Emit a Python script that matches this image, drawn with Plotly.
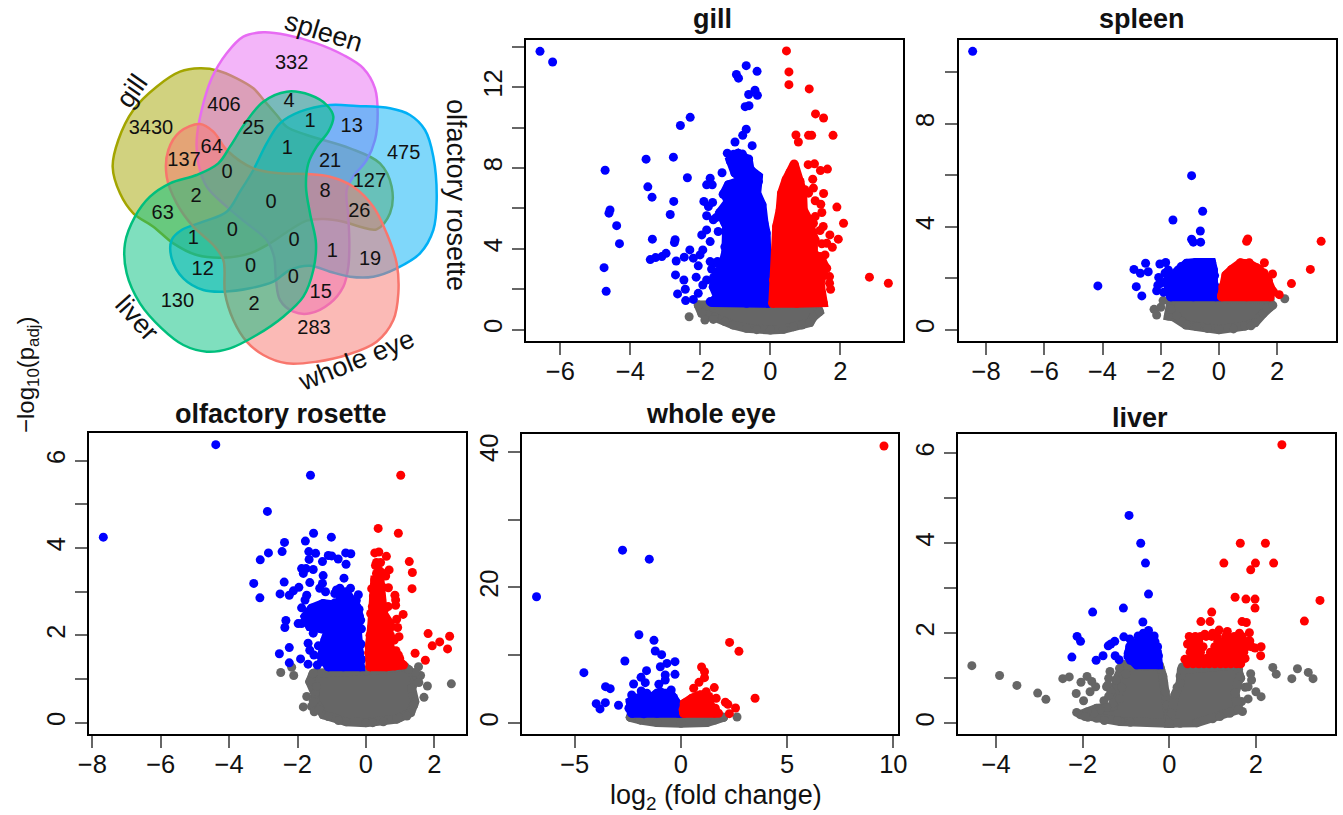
import plotly.graph_objects as go

W, H = 1343, 815
FONT = "Liberation Sans"
BLUE, RED, GREY = "#0000FF", "#FF0000", "#666666"

# ---- Volcano data: (log2 fold change, -log10 padj).
# *_PTS are the distinguishable points; *_CORE outline the saturated part of each
# cloud, where single points cannot be told apart.
GILL_BLUE_PTS = [(-6.58,13.78),(-6.22,13.25),(-4.72,7.89),(-4.58,5.93),(-4.61,5.77),(-4.39,5.15),(-4.31,4.26),(-4.75,3.07),(-4.69,1.90),(-3.55,8.44),(-3.50,7.07),(-3.38,6.56),(-3.37,4.48),(-3.43,3.47),(-3.28,3.57),(-3.10,3.62),(-2.98,3.78),(-2.77,8.54),(-2.76,6.35),(-2.86,5.70),(-2.72,4.45),(-2.74,4.31),(-2.69,3.40),(-2.71,2.71),(-2.47,2.46),(-2.43,2.00),(-2.65,1.77),(-2.42,1.44),(-2.57,10.11),(-2.29,10.51),(-2.37,7.52),(-2.46,3.59),(-2.30,3.95),(-2.20,3.54),(-2.01,3.70),(-1.93,3.95),(-2.06,3.16),(-2.12,2.60),(-1.93,2.21),(-1.82,2.46),(-2.06,1.80),(-2.20,1.50),(-1.72,1.39),(-1.72,3.37),(-1.96,4.69),(-1.82,4.94),(-1.82,5.64),(-1.90,6.35),(-1.65,6.30),(-1.77,6.10),(-1.72,7.50),(-1.82,7.17),(-1.66,7.17),(-1.38,7.77),(-1.72,4.36),(-1.63,5.44),(-1.49,4.86),(-1.51,3.37),(-1.23,8.74),(-1.01,9.29),(-0.79,9.62),(-0.69,9.92),(-0.52,9.11),(-0.69,13.07),(-0.38,12.79),(-0.97,12.63),(-0.91,12.45),(-0.44,11.85),(-0.62,11.64),(-0.37,11.60),(-0.72,11.04),(-0.61,11.09),(-1.05,8.68),(-0.93,8.74),(-0.80,8.70),(-0.62,8.45),(-1.14,8.33),(-1.05,8.10),(-0.55,7.90),(-0.40,7.60),(-0.97,7.80),(-0.82,7.90),(-1.55,5.55),(-1.38,5.75),(-1.30,5.30),(-1.45,3.20),(-1.60,3.30),(-1.68,3.00),(-1.62,2.60),(-1.52,2.85),(-1.30,4.10),(-1.25,4.40),(-1.27,6.00),(-1.35,6.70)]
GILL_BLUE_CORE = [(-0.06,1.31),(-0.06,2.46),(-0.10,3.79),(-0.12,4.78),(-0.18,5.27),(-0.24,6.18),(-0.39,6.76),(-0.34,7.34),(-0.34,7.59),(-0.58,7.92),(-0.63,8.41),(-0.91,8.71),(-1.15,8.41),(-1.01,7.75),(-0.77,7.42),(-1.20,7.17),(-1.32,6.76),(-1.20,6.35),(-1.44,5.80),(-1.25,5.11),(-1.27,3.87),(-1.39,3.04),(-1.58,2.55),(-1.63,2.13),(-1.51,1.64),(-1.68,1.34),(-0.68,1.31)]
GILL_RED_PTS = [(0.46,13.80),(0.53,12.76),(0.53,12.13),(1.11,11.92),(1.29,10.68),(1.52,10.48),(0.73,9.64),(0.80,9.29),(1.09,9.62),(1.18,9.62),(1.79,9.62),(1.08,8.17),(1.26,8.21),(1.43,7.88),(1.63,7.95),(1.21,7.45),(1.23,7.01),(1.09,6.76),(1.52,6.74),(1.28,6.38),(1.44,6.21),(1.90,6.07),(1.47,5.80),(1.28,5.60),(2.09,5.27),(1.51,5.11),(1.42,4.91),(1.70,4.69),(1.94,4.48),(1.47,4.25),(1.61,4.28),(1.77,4.08),(2.83,2.60),(3.37,2.30),(1.69,2.63),(1.69,2.30),(1.72,2.00),(1.61,3.04),(1.56,3.70),(0.85,7.34),(0.99,6.93),(1.23,5.27),(1.28,4.45),(1.42,3.62),(1.44,2.13),(1.28,1.34),(0.62,7.60),(0.50,7.20),(0.38,6.30),(1.10,5.00),(1.35,3.30)]
GILL_RED_CORE = [(0.07,1.31),(0.09,2.46),(0.15,3.79),(0.18,5.11),(0.28,5.93),(0.32,6.76),(0.45,7.42),(0.56,7.79),(0.68,8.20),(0.83,7.34),(0.92,6.84),(0.94,5.93),(1.09,5.44),(1.23,4.61),(1.23,3.79),(1.47,3.45),(1.56,3.12),(1.42,2.30),(1.51,1.34),(0.75,1.31)]
GILL_GREY_PTS = [(-2.32,0.64),(-1.87,0.48),(-1.63,0.51)]
GILL_GREY_CORE = [(-2.06,1.22),(-1.96,0.81),(-1.60,0.62),(-1.30,0.40),(-1.06,0.23),(-0.68,0.07),(-0.39,0.0),(0.0,-0.02),(0.37,0.02),(0.66,0.15),(0.90,0.23),(1.13,0.35),(1.23,0.64),(1.40,0.89),(1.32,1.28),(0.0,1.28)]

SPLEEN_BLUE_PTS = [(-8.46,10.81),(-0.94,5.98),(-0.56,4.60),(-1.58,4.26),(-0.64,3.83),(-0.94,3.51),(-0.88,3.40),(-0.63,3.40),(-4.16,1.70),(-2.65,1.31),(-2.84,1.67),(-2.92,2.34),(-2.70,2.19),(-2.52,2.58),(-2.43,2.25),(-2.03,2.55),(-1.83,2.61),(-2.07,2.03),(-2.14,1.51),(-2.10,1.73),(-1.74,2.32),(-1.50,2.10),(-1.30,2.45),(-1.00,2.55),(-0.65,2.55),(-0.38,2.60),(-0.15,2.10),(-0.14,1.70),(-0.10,1.45),(-1.80,1.90),(-1.90,1.45),(-1.60,1.35),(-2.00,1.80),(-1.85,2.20)]
SPLEEN_BLUE_CORE = [(-1.66,1.28),(-1.74,1.67),(-1.66,2.06),(-1.40,2.32),(-1.11,2.58),(-0.80,2.61),(-0.52,2.58),(-0.25,2.61),(-0.19,2.32),(-0.19,1.86),(-0.11,1.28),(-0.88,1.28)]
SPLEEN_RED_PTS = [(0.99,3.52),(0.95,3.43),(3.51,3.43),(3.14,2.34),(2.49,1.79),(2.07,1.36),(1.87,1.48),(1.84,2.16),(1.56,2.60),(1.04,2.60),(0.74,2.60),(1.70,1.90),(1.55,2.20),(1.30,2.40),(0.50,2.30),(0.28,2.00),(0.14,1.50),(0.10,1.35)]
SPLEEN_RED_CORE = [(0.09,1.28),(0.13,1.67),(0.24,2.12),(0.44,2.34),(0.74,2.58),(1.04,2.55),(1.39,2.34),(1.64,1.99),(1.81,1.54),(1.75,1.28),(0.95,1.28)]
SPLEEN_GREY_PTS = [(2.26,1.20),(-2.23,0.79),(-2.14,0.57),(-2.00,0.87),(-1.92,1.13),(0.50,0.03),(-0.40,0.05),(1.10,0.15),(1.65,0.85),(-1.30,0.35),(-1.45,0.55),(-1.65,0.80),(1.85,0.95)]
SPLEEN_GREY_CORE = [(1.75,1.20),(1.75,0.87),(1.52,0.63),(1.24,0.27),(0.89,0.14),(0.0,0.0),(-0.77,0.12),(-1.13,0.18),(-1.57,0.50),(-1.74,0.53),(-1.63,1.22)]

OLF_BLUE_PTS = [(-7.68,4.25),(-4.39,6.37),(-1.62,5.67),(-2.88,4.84),(-1.53,4.34),(-1.01,4.25),(-2.38,4.13),(-1.77,4.16),(-2.45,3.92),(-2.85,3.89),(-3.09,3.73),(-3.28,3.19),(-3.10,2.86),(-2.39,3.22),(-2.51,2.95),(-2.24,2.92),(-2.12,3.02),(-1.96,3.10),(-1.67,3.92),(-1.47,3.88),(-1.66,3.74),(-1.88,3.53),(-1.75,3.53),(-1.83,3.42),(-1.54,3.51),(-1.64,3.21),(-1.73,2.92),(-1.78,2.81),(-1.88,2.63),(-1.27,3.69),(-1.10,3.83),(-1.00,3.82),(-0.81,3.75),(-0.59,3.89),(-0.44,3.87),(-0.58,3.63),(-1.25,3.37),(-1.27,3.19),(-1.35,3.08),(-1.18,3.00),(-0.64,3.31),(-0.86,3.04),(-0.76,3.08),(-0.45,3.08),(-0.22,2.93),(-0.91,2.96),(-2.34,2.34),(-2.37,2.18),(-1.98,2.27),(-1.88,2.27),(-1.69,1.82),(-1.64,1.66),(-1.52,1.55),(-2.24,1.72),(-2.53,1.58),(-2.24,1.37),(-1.91,1.46),(-1.69,1.34),(-1.39,1.76),(-1.54,2.05),(-1.46,2.30),(-1.30,2.15),(-1.35,2.45),(-1.50,2.60),(-1.15,2.40),(-1.00,2.00),(-1.20,1.70),(-1.30,1.40),(-1.42,1.32),(-0.90,2.75),(-1.10,2.65),(-0.75,2.85),(-0.60,3.00),(-0.70,2.95),(-0.20,2.60),(-0.28,2.80),(-0.15,2.35),(-0.13,2.15),(-0.14,1.80),(-0.12,1.45)]
OLF_BLUE_CORE = [(-1.10,1.28),(-1.30,1.51),(-1.20,1.89),(-1.10,2.12),(-1.64,2.20),(-1.78,2.43),(-1.59,2.62),(-1.25,2.73),(-0.86,2.69),(-0.52,2.92),(-0.27,2.66),(-0.19,2.43),(-0.25,2.12),(-0.18,1.59),(-0.16,1.28),(-0.66,1.28)]
OLF_RED_PTS = [(0.36,4.45),(0.95,4.34),(1.02,5.67),(0.26,3.89),(0.38,3.91),(0.60,3.81),(0.31,3.67),(0.43,3.67),(1.27,3.69),(0.31,3.42),(0.46,3.44),(0.68,3.50),(0.58,3.36),(1.36,3.44),(1.35,3.07),(0.41,3.21),(0.17,3.07),(0.66,3.09),(0.85,2.92),(0.87,2.81),(0.65,2.66),(0.87,2.69),(1.09,2.48),(0.90,2.37),(0.93,2.18),(0.97,1.97),(0.83,1.89),(0.88,1.65),(0.99,1.47),(1.04,1.36),(0.80,1.32),(1.44,1.59),(1.74,1.43),(1.82,2.04),(1.94,1.76),(2.16,1.85),(2.45,1.98),(2.39,1.69),(0.28,3.60),(0.50,3.10),(0.12,2.00),(0.14,2.50),(0.08,1.60),(0.55,2.60),(0.60,2.30),(0.75,2.20),(0.72,2.00),(0.62,1.80),(0.75,1.60),(0.95,1.55),(1.10,1.32),(0.55,1.40),(0.85,1.30),(0.30,3.30),(0.22,2.90),(0.38,3.50)]
OLF_RED_CORE = [(0.12,1.28),(0.10,1.74),(0.17,2.20),(0.19,2.66),(0.26,2.96),(0.26,3.27),(0.41,3.27),(0.46,2.81),(0.51,2.50),(0.70,2.27),(0.65,1.89),(0.80,1.51),(1.04,1.32),(0.60,1.28)]
OLF_GREY_PTS = [(-2.49,1.15),(-2.17,1.27),(-2.11,1.08),(-1.73,0.60),(-1.83,0.36),(-1.59,0.37),(-1.51,0.25),(1.80,0.84),(1.70,0.58),(2.50,0.89),(1.54,1.28),(1.60,1.08),(-1.44,0.83),(-1.54,0.48),(-1.37,0.30),(-1.10,0.14),(-0.80,0.05),(0.20,0.0),(1.00,0.12),(1.20,0.15),(1.40,0.40),(1.55,0.92),(1.45,1.15),(1.25,1.22)]
OLF_GREY_CORE = [(-1.54,1.13),(-1.64,0.94),(-1.49,0.67),(-1.49,0.52),(-1.25,0.18),(-0.57,0.02),(0.0,0.0),(0.51,0.02),(0.90,0.08),(1.31,0.23),(1.43,0.48),(1.34,0.79),(1.48,1.05),(1.14,1.28),(0.02,1.19)]

EYE_BLUE_PTS = [(-6.80,18.63),(-2.75,25.49),(-1.49,24.17),(-1.98,13.04),(-1.27,12.21),(-1.21,10.64),(-0.91,10.10),(-2.64,9.17),(-0.28,9.07),(-0.66,8.82),(-0.97,8.33),(-4.57,7.45),(-1.62,7.75),(-0.74,7.11),(-0.28,7.21),(-1.88,6.76),(-1.68,5.98),(-2.23,5.78),(-0.74,6.37),(-1.04,5.74),(-3.55,5.39),(-3.33,5.10),(-3.56,3.04),(-3.99,2.89),(-3.81,2.11),(-2.94,2.65),(-2.32,4.17),(-1.87,4.75),(-1.60,4.41),(-0.97,4.66),(-0.46,4.90),(-2.45,2.21),(-2.20,3.70),(-1.90,3.90),(-1.60,3.60),(-1.30,3.50),(-1.10,4.00),(-0.80,4.20),(-0.60,4.00),(-0.35,3.80),(-0.15,2.40),(-0.10,1.90),(-2.40,2.40),(-2.35,1.60),(-1.75,1.40)]
EYE_BLUE_CORE = [(-2.31,1.47),(-2.39,3.19),(-2.07,3.68),(-1.44,3.68),(-1.13,4.41),(-0.50,4.41),(-0.19,2.94),(-0.11,1.47),(-1.13,1.47)]
EYE_RED_PTS = [(9.56,40.83),(2.29,11.91),(2.73,10.59),(0.97,8.28),(1.11,7.60),(1.11,6.72),(0.85,6.03),(0.60,5.15),(1.57,5.25),(1.19,4.66),(3.49,3.68),(1.66,3.68),(2.09,3.09),(2.21,2.79),(2.57,2.25),(2.28,1.42),(1.77,1.47),(1.62,2.21),(0.20,3.00),(0.40,3.30),(0.70,3.90),(1.05,4.20),(1.35,3.40),(1.40,2.20),(1.55,1.90),(0.10,2.00)]
EYE_RED_CORE = [(0.13,1.47),(0.16,2.94),(0.52,3.68),(0.91,4.17),(1.30,3.92),(1.38,2.70),(1.62,1.47)]
EYE_GREY_PTS = [(-2.39,0.88),(2.64,0.93),(2.01,0.88)]
EYE_GREY_CORE = [(-1.92,0.49),(-1.13,0.10),(0.0,0.0),(1.22,0.10),(1.62,0.49),(2.01,0.88),(-2.39,0.88)]

LIVER_BLUE_PTS = [(-0.93,4.62),(-0.66,4.00),(-0.55,3.56),(-0.48,2.87),(-1.06,2.56),(-1.77,2.47),(-0.61,2.25),(-2.13,1.93),(-2.05,1.82),(-1.05,1.92),(-0.91,1.87),(-1.41,1.72),(-1.35,1.76),(-1.26,1.82),(-2.25,1.47),(-1.69,1.40),(-1.53,1.50),(-1.25,1.50),(-1.16,1.41),(-0.72,1.94),(-0.60,2.00),(-0.48,2.06),(-0.35,1.94),(-0.33,1.81),(-0.95,1.55),(-0.90,1.40),(-0.75,1.32),(-0.50,1.32),(-0.30,1.35),(-0.25,1.50),(-0.27,1.70),(-0.40,1.85),(-0.78,1.78),(-0.62,1.90)]
LIVER_BLUE_CORE = [(-0.95,1.48),(-0.91,1.70),(-0.68,1.85),(-0.45,1.89),(-0.28,1.59),(-0.25,1.30),(-0.75,1.30)]
LIVER_RED_PTS = [(2.60,6.19),(1.64,4.00),(2.22,4.00),(1.26,3.56),(1.99,3.56),(2.41,3.56),(1.88,3.41),(1.52,2.80),(1.77,2.76),(1.98,2.76),(1.98,2.56),(3.48,2.73),(3.12,2.27),(0.98,2.47),(0.73,2.26),(0.94,2.26),(1.68,2.26),(1.78,2.24),(2.12,1.70),(2.11,1.50),(1.98,1.67),(1.86,1.83),(1.85,2.01),(0.46,1.93),(0.42,1.76),(0.36,1.42),(1.15,2.07),(1.34,2.04),(0.82,1.98),(1.00,2.00),(1.62,2.00),(1.45,1.89),(1.75,1.78),(1.75,1.44),
    (0.42,1.32),(0.55,1.32),(0.68,1.32),(0.80,1.32),(0.92,1.32),(1.05,1.32),(1.18,1.32),(1.30,1.32),(1.42,1.32),(1.55,1.32),(1.65,1.32),
    (0.50,1.45),(0.62,1.45),(0.75,1.45),(0.88,1.45),(1.00,1.45),(1.12,1.45),(1.25,1.45),(1.38,1.45),(1.50,1.45),(1.62,1.45),
    (0.48,1.58),(0.60,1.58),(0.72,1.58),(0.95,1.58),(1.10,1.58),(1.22,1.58),(1.35,1.58),(1.48,1.58),(1.60,1.58),(1.72,1.58),
    (0.50,1.70),(0.62,1.70),(0.78,1.70),(1.05,1.70),(1.18,1.70),(1.32,1.70),(1.45,1.70),(1.62,1.70),(1.78,1.70),(1.90,1.70),
    (0.55,1.82),(0.68,1.82),(1.12,1.82),(1.25,1.82),(1.42,1.82),(1.55,1.82),(1.70,1.82),(1.82,1.82),
    (0.60,1.93),(0.72,1.93),(0.85,1.93),(0.98,1.93),(1.10,1.93),(1.30,1.93),(1.50,1.93),(1.68,1.93)]
LIVER_GREY_PTS = [(-4.56,1.28),(-3.92,1.06),(-3.52,0.84),(-3.04,0.67),(-2.85,0.53),(-2.46,0.99),(-2.31,1.03),(-2.04,0.91),(-2.15,0.66),(-1.90,1.04),(-1.79,0.93),(-1.70,0.81),(-1.83,0.70),(-1.98,0.50),(-2.14,0.24),(-1.88,0.13),(-1.51,0.50),(-1.45,0.81),(-1.37,1.15),(1.88,1.10),(1.90,0.96),(1.75,0.80),(1.82,0.81),(2.00,0.70),(2.12,0.59),(1.82,0.54),(1.67,0.48),(1.69,0.26),(2.39,1.24),(2.47,1.09),(2.83,0.99),(2.96,1.21),(3.21,1.13),(3.32,0.99),(-1.40,1.00),(-1.42,0.85),(-1.35,0.70),(-1.40,0.60),(-1.30,0.45),(-1.45,0.35),(-1.60,0.30),(-1.75,0.22),(-1.90,0.25),(-1.95,0.15),(-1.50,0.06),(-1.20,0.06),(-0.90,0.02),(-1.15,1.22),(-0.95,1.28),(-1.00,1.10),(-1.10,0.80),(-1.15,0.55),(-0.20,1.20),(-0.13,0.90),(-0.09,0.70),(-0.05,0.40),(0.30,1.25),(0.25,1.05),(0.18,0.80),(0.10,0.45),(0.40,1.30),(1.10,1.30),(1.45,1.25),(1.60,1.20),(1.65,1.00),(1.55,0.85),(1.50,0.55),(1.60,0.40),(1.40,0.22),(1.00,0.10),(0.50,0.03),(0.25,0.0)]
LIVER_GREY_CORE_L = [(-1.06,1.30),(-0.22,1.26),(-0.15,1.04),(-0.08,0.59),(-0.02,0.22),(0.0,0.0),(-1.14,0.04),(-1.68,0.11),(-2.06,0.19),(-1.68,0.33),(-1.29,0.37),(-1.22,0.96)]
LIVER_GREY_CORE_R = [(0.28,1.19),(1.55,1.30),(1.63,1.04),(1.52,0.67),(1.59,0.30),(1.17,0.15),(0.63,0.01),(0.0,0.0),(0.05,0.22),(0.13,0.63),(0.25,0.89)]

# ---- Venn petals (smooth outlines) and region counts, in the Venn panel's own units.
PETAL_GILL = [(330,205),(385,212),(440,235),(490,265),(525,305),(560,345),(590,380),(650,405),(780,445),(870,490),(905,560),(900,640),(860,688),(810,680),(760,665),(700,657),(650,662),(600,690),(540,730),(480,760),(400,773),(320,765),(250,730),(190,680),(130,640),(90,580),(68,500),(85,420),(130,330),(200,260),(270,215),(330,205)]
PETAL_SPLEEN = [(520,97),(590,105),(680,130),(760,165),(820,205),(855,265),(863,340),(855,420),(830,480),(790,530),(770,570),(775,650),(778,730),(775,800),(760,860),(720,910),(660,940),(610,935),(570,900),(558,840),(552,770),(530,720),(470,670),(410,620),(350,560),(325,490),(320,420),(335,330),(365,235),(410,160),(460,110),(520,97)]
PETAL_OLF = [(720,315),(800,318),(900,325),(960,345),(1005,390),(1030,470),(1040,600),(1030,690),(990,760),(920,805),(850,830),(780,830),(720,815),(660,797),(600,810),(550,845),(480,865),(400,875),(340,870),(280,835),(245,775),(245,720),(275,690),(340,665),(410,635),(450,575),(490,510),(530,430),(570,370),(630,335),(720,315)]
PETAL_EYE = [(650,522),(720,530),(790,560),(850,620),(890,700),(920,790),(925,880),(910,960),(860,1025),(770,1065),(680,1085),(590,1090),(520,1065),(470,1025),(430,960),(405,880),(400,780),(370,735),(310,680),(260,610),(230,530),(235,450),(270,395),(330,372),(370,395),(410,450),(490,505),(570,520),(650,522)]
PETAL_LIVER = [(590,275),(660,285),(710,315),(730,350),(715,395),(680,440),(655,490),(648,560),(660,640),(678,730),(670,810),(640,890),(580,950),(500,1005),(420,1045),(350,1055),(280,1035),(215,985),(150,910),(110,820),(105,730),(135,650),(180,590),(240,550),(320,525),(385,490),(420,440),(465,370),(520,305),(590,275)]
PETAL_COLORS = ["#A3A500", "#E76BF3", "#00B0F6", "#F8766D", "#00BF7D"]
PETAL_FILLS = ["rgba(163,165,0,0.5)", "rgba(231,107,243,0.5)", "rgba(0,176,246,0.5)", "rgba(248,118,109,0.5)", "rgba(0,191,125,0.5)"]
VENN_COUNTS = ["3430","332","406","4","1","13","25","64","137","1","21","475","0","127","8","2","0","26","63","0","1","0","1","19","12","0","0","15","130","2","283"]
VENN_COUNT_X = [183,605,402,597,660,785,490,365,282,592,720,941,411,838,705,318,543,808,218,427,310,612,727,840,338,482,610,692,262,492,672]
VENN_COUNT_Y = [387,192,318,305,365,380,388,445,483,447,485,462,520,545,577,592,608,635,642,693,718,723,757,780,810,800,833,880,905,915,988]
SET_NAMES = ["gill", "spleen", "olfactory rosette", "whole eye", "liver"]
SET_NAME_X = [125, 703, 1098, 800, 140]
SET_NAME_Y = [272, 95, 585, 1080, 955]
SET_NAME_ANGLE = [-55, 17, 90, -22, 48]

# ---- Panels: title, box in screen pixels (left, top, right, bottom), ranges, ticks.
PANELS = [
    dict(name="gill", box=(526,40,902.7,341), xr=(-6.98,3.78), yr=(-0.56,14.34),
         xt=[-6,-4,-2,0,2], xl=["−6","−4","−2","0","2"],
         yt=[0,4,8,12], yl=["0","4","8","12"], ym=[2,6,10,14], xm=[],
         layers=[(GILL_GREY_CORE,GILL_GREY_PTS,GREY),(GILL_BLUE_CORE,GILL_BLUE_PTS,BLUE),(GILL_RED_CORE,GILL_RED_PTS,RED)],
         title_xy=(712,19)),
    dict(name="spleen", box=(958.7,40,1335.7,341), xr=(-8.94,4.01), yr=(-0.44,11.25),
         xt=[-8,-6,-4,-2,0,2], xl=["−8","−6","−4","−2","0","2"],
         yt=[0,4,8], yl=["0","4","8"], ym=[2,6,10], xm=[],
         layers=[(SPLEEN_GREY_CORE,SPLEEN_GREY_PTS,GREY),(SPLEEN_BLUE_CORE,SPLEEN_BLUE_PTS,BLUE),(SPLEEN_RED_CORE,SPLEEN_RED_PTS,RED)],
         title_xy=(1142,19)),
    dict(name="olfactory rosette", box=(89.3,433.3,465.7,734), xr=(-8.09,2.92), yr=(-0.26,6.63),
         xt=[-8,-6,-4,-2,0,2], xl=["−8","−6","−4","−2","0","2"],
         yt=[0,2,4,6], yl=["0","2","4","6"], ym=[1,3,5], xm=[],
         layers=[(OLF_GREY_CORE,OLF_GREY_PTS,GREY),(OLF_BLUE_CORE,OLF_BLUE_PTS,BLUE),(OLF_RED_CORE,OLF_RED_PTS,RED)],
         title_xy=(281,414)),
    dict(name="whole eye", box=(522.3,434,898,734), xr=(-7.47,10.22), yr=(-1.58,42.6),
         xt=[-5,0,5,10], xl=["−5","0","5","10"],
         yt=[0,20,40], yl=["0","20","40"], ym=[10,30], xm=[],
         layers=[(EYE_GREY_CORE,EYE_GREY_PTS,GREY),(EYE_BLUE_CORE,EYE_BLUE_PTS,BLUE),(EYE_RED_CORE,EYE_RED_PTS,RED)],
         title_xy=(711,414)),
    dict(name="liver", box=(958,434,1334.7,734), xr=(-4.88,3.82), yr=(-0.24,6.43),
         xt=[-4,-2,0,2], xl=["−4","−2","0","2"],
         yt=[0,2,4,6], yl=["0","2","4","6"], ym=[1,3,5], xm=[],
         layers=[(LIVER_GREY_CORE_L,LIVER_GREY_PTS,GREY),(LIVER_GREY_CORE_R,[],GREY),(LIVER_BLUE_CORE,LIVER_BLUE_PTS,BLUE),(None,LIVER_RED_PTS,RED)],
         title_xy=(1140,418)),
]

VENN_BOX = (90, 0, 490, 400)
MARKER = 9
TICK_GREY = "#666666"
TICK_FONT = dict(family=FONT, size=25.5, color="#111111")

def xfrac(p): return p / W
def yfrac(p): return 1 - p / H

fig = go.Figure()
layout = dict(
    width=W, height=H, autosize=False, margin=dict(l=0, r=0, t=0, b=0),
    paper_bgcolor="white", plot_bgcolor="white", showlegend=False,
    font=dict(family=FONT, color="#111111"), annotations=[],
)

for i, p in enumerate(PANELS, start=1):
    xn, yn = ("x", "y") if i == 1 else (f"x{i}", f"y{i}")
    l, t, r, b = p["box"]
    layout["xaxis" if i == 1 else f"xaxis{i}"] = dict(
        domain=[xfrac(l), xfrac(r)], range=list(p["xr"]), anchor=yn, automargin=False,
        tickmode="array", tickvals=p["xt"], ticktext=p["xl"], ticks="outside",
        ticklen=12, tickwidth=2, tickcolor=TICK_GREY, showgrid=False, zeroline=False,
        showline=True, linecolor="black", linewidth=2.4, mirror=True, ticklabelstandoff=-6,
        tickfont=TICK_FONT)
    layout["yaxis" if i == 1 else f"yaxis{i}"] = dict(
        domain=[yfrac(b), yfrac(t)], range=list(p["yr"]), anchor=xn, automargin=False,
        tickmode="array", tickvals=p["yt"], ticktext=p["yl"], ticks="outside",
        ticklen=12, tickwidth=2, tickcolor=TICK_GREY, showgrid=False, zeroline=False,
        minor=dict(tickmode="array", tickvals=p["ym"], ticks="outside", ticklen=12, tickwidth=2,
                   tickcolor=TICK_GREY, showgrid=False),
        showline=True, linecolor="black", linewidth=2.4, mirror=True, tickangle=-90,
        tickfont=TICK_FONT)
    for core, pts, col in p["layers"]:
        if core:
            cx = [c[0] for c in core] + [core[0][0]]
            cy = [c[1] for c in core] + [core[0][1]]
            fig.add_trace(go.Scatter(x=cx, y=cy, xaxis=xn, yaxis=yn, mode="lines+markers",
                                     fill="toself", fillcolor=col,
                                     line=dict(color=col, width=MARKER),
                                     marker=dict(color=col, size=MARKER), hoverinfo="skip"))
        if pts:
            fig.add_trace(go.Scatter(x=[q[0] for q in pts], y=[q[1] for q in pts], xaxis=xn, yaxis=yn,
                                     mode="markers", marker=dict(color=col, size=MARKER, line=dict(width=0))))
    tx, ty = p["title_xy"]
    layout["annotations"].append(dict(text=f"<b>{p['name']}</b>", x=xfrac(tx), y=yfrac(ty), xref="paper", yref="paper",
                                      showarrow=False, xanchor="center", yanchor="middle",
                                      font=dict(family=FONT, size=27, color="#111111")))

# Venn panel
vl, vt, vr, vb = VENN_BOX
layout["xaxis6"] = dict(domain=[xfrac(vl), xfrac(vr)], range=[0, 1200], anchor="y6", visible=False, fixedrange=True, automargin=False)
layout["yaxis6"] = dict(domain=[yfrac(vb), yfrac(vt)], range=[1200, 0], anchor="x6", visible=False, fixedrange=True, automargin=False)
for petal, lc, fc in zip([PETAL_GILL, PETAL_SPLEEN, PETAL_OLF, PETAL_EYE, PETAL_LIVER], PETAL_COLORS, PETAL_FILLS):
    fig.add_trace(go.Scatter(x=[q[0] for q in petal], y=[q[1] for q in petal], xaxis="x6", yaxis="y6",
                             mode="lines", fill="toself", fillcolor=fc,
                             line=dict(color=lc, width=2.5, shape="spline", smoothing=1), hoverinfo="skip"))
fig.add_trace(go.Scatter(x=VENN_COUNT_X, y=VENN_COUNT_Y, text=VENN_COUNTS, xaxis="x6", yaxis="y6", mode="text",
                         textposition="middle center", textfont=dict(family=FONT, size=20, color="#111111")))
for nm, nx, ny, ang in zip(SET_NAMES, SET_NAME_X, SET_NAME_Y, SET_NAME_ANGLE):
    layout["annotations"].append(dict(text=nm, x=nx, y=ny, xref="x6", yref="y6", showarrow=False, textangle=ang,
                                      xanchor="center", yanchor="middle",
                                      font=dict(family=FONT, size=27, color="#111111")))

layout["annotations"].append(dict(text="log<sub>2</sub> (fold change)", x=xfrac(716), y=yfrac(797), xref="paper", yref="paper",
                                  showarrow=False, xanchor="center", yanchor="middle",
                                  font=dict(family=FONT, size=27, color="#111111")))
layout["annotations"].append(dict(text="−log<sub>10</sub>(p<sub>adj</sub>)", x=xfrac(27), y=yfrac(375), xref="paper", yref="paper",
                                  showarrow=False, textangle=-90, xanchor="center", yanchor="middle",
                                  font=dict(family=FONT, size=24, color="#111111")))
fig.update_layout(**layout)
fig.write_html("out.html", post_script="document.body.style.margin='0';document.body.style.overflow='hidden';",
               config=dict(displayModeBar=False))
